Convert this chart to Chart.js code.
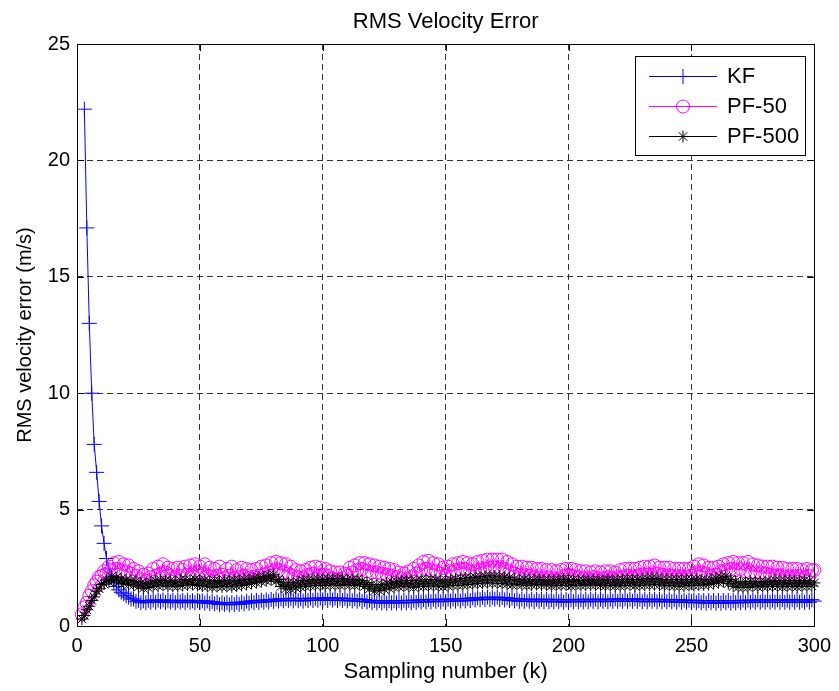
<!DOCTYPE html>
<html>
<head>
<meta charset="utf-8">
<script src="https://cdn.jsdelivr.net/npm/chart.js@4"></script>
<style>
  html, body { margin: 0; padding: 0; background: #ffffff; }
  #wrap { width: 839px; height: 691px; }
  canvas { display: block; }
</style>
</head>
<body>
<div id="wrap"><canvas id="c" width="839" height="691"></canvas></div>
<script>
// ---------- data ----------
const chartTitle = "RMS Velocity Error";
const xAxisTitle = "Sampling number (k)";
const yAxisTitle = "RMS velocity error (m/s)";
const seriesNames = ["KF", "PF-50", "PF-500"];
const xTicks = [0, 50, 100, 150, 200, 250, 300];
const yTicks = [0, 5, 10, 15, 20, 25];

// sampling numbers k = 1..300
const samples = Array.from({ length: 300 }, (_, i) => i + 1);

const kfValues = [
  null, null, 22.2, 17.1, 13.0, 10.0, 7.8, 6.6, 5.35, 4.3,
  3.55, 2.9, 2.45, 2.1, 1.85, 1.7, 1.55, 1.45, 1.38, 1.3,
  1.24, 1.16, 1.16, 1.06, 1.1, 1.0, 1.08, 1.0, 1.1, 1.02,
  1.12, 1.02, 1.11, 1.04, 1.12, 1.01, 1.1, 1.03, 1.11, 1.0,
  1.1, 1.03, 1.1, 1.0, 1.11, 1.02, 1.08, 1.0, 1.1, 1.01,
  1.08, 0.98, 1.08, 0.97, 1.05, 0.95, 1.02, 0.92, 1.0, 0.93,
  1.0, 0.91, 1.01, 0.92, 1.02, 0.93, 1.03, 0.95, 1.06, 0.98,
  1.08, 1.0, 1.1, 1.01, 1.11, 1.03, 1.12, 1.04, 1.14, 1.06,
  1.16, 1.08, 1.17, 1.08, 1.18, 1.1, 1.19, 1.08, 1.19, 1.09,
  1.18, 1.07, 1.18, 1.1, 1.2, 1.1, 1.19, 1.11, 1.2, 1.12,
  1.21, 1.1, 1.21, 1.11, 1.2, 1.09, 1.2, 1.1, 1.19, 1.08,
  1.18, 1.08, 1.17, 1.06, 1.16, 1.05, 1.14, 1.03, 1.11, 1.01,
  1.09, 0.99, 1.09, 0.99, 1.08, 0.98, 1.09, 0.99, 1.08, 0.99,
  1.09, 0.99, 1.1, 1.0, 1.1, 1.0, 1.11, 1.01, 1.12, 1.03,
  1.13, 1.03, 1.14, 1.04, 1.15, 1.06, 1.14, 1.04, 1.15, 1.05,
  1.16, 1.07, 1.16, 1.07, 1.17, 1.07, 1.18, 1.08, 1.19, 1.09,
  1.21, 1.12, 1.21, 1.13, 1.23, 1.13, 1.24, 1.14, 1.23, 1.15,
  1.24, 1.13, 1.23, 1.12, 1.21, 1.1, 1.19, 1.08, 1.17, 1.06,
  1.16, 1.06, 1.15, 1.06, 1.15, 1.04, 1.15, 1.06, 1.15, 1.04,
  1.15, 1.04, 1.13, 1.04, 1.15, 1.04, 1.13, 1.02, 1.13, 1.04,
  1.13, 1.04, 1.15, 1.04, 1.13, 1.04, 1.15, 1.04, 1.15, 1.06,
  1.15, 1.04, 1.15, 1.06, 1.15, 1.04, 1.15, 1.06, 1.17, 1.06,
  1.15, 1.06, 1.17, 1.06, 1.15, 1.06, 1.17, 1.06, 1.15, 1.04,
  1.15, 1.04, 1.15, 1.06, 1.15, 1.04, 1.15, 1.04, 1.13, 1.04,
  1.13, 1.04, 1.13, 1.02, 1.13, 1.02, 1.11, 1.02, 1.11, 1.0,
  1.11, 1.0, 1.09, 1.0, 1.09, 0.98, 1.09, 1.0, 1.09, 0.98,
  1.09, 0.98, 1.09, 1.0, 1.09, 0.98, 1.09, 1.0, 1.09, 1.0,
  1.11, 1.0, 1.11, 1.02, 1.11, 1.02, 1.13, 1.02, 1.11, 1.02,
  1.13, 1.02, 1.11, 1.02, 1.13, 1.02, 1.13, 1.02, 1.11, 1.02,
  1.13, 1.02, 1.13, 1.02, 1.11, 1.02, 1.13, 1.02, 1.13, 1.07
];

const pf50Values = [
  null, 0.5, 0.8, 1.0, 1.3, 1.5, 1.75, 1.9, 2.1, 2.15,
  2.35, 2.25, 2.55, 2.4, 2.7, 2.45, 2.75, 2.4, 2.65, 2.35,
  2.6, 2.25, 2.45, 2.15, 2.35, 2.0, 2.2, 1.95, 2.25, 2.1,
  2.45, 2.15, 2.55, 2.25, 2.65, 2.3, 2.5, 2.15, 2.45, 2.1,
  2.5, 2.15, 2.4, 2.55, 2.2, 2.6, 2.25, 2.65, 2.3, 2.55,
  2.25, 2.65, 2.2, 2.5, 2.1, 2.45, 2.15, 2.55, 2.2, 2.05,
  2.45, 2.15, 2.55, 2.05, 2.4, 2.1, 2.5, 2.15, 2.45, 2.05,
  2.4, 2.1, 2.45, 2.15, 2.55, 2.2, 2.6, 2.3, 2.7, 2.35,
  2.75, 2.4, 2.7, 2.3, 2.65, 2.25, 2.55, 2.15, 2.4, 2.1,
  2.35, 2.05, 2.4, 2.2, 2.5, 2.25, 2.55, 2.15, 2.5, 2.2,
  2.45, 2.15, 2.35, 2.05, 2.3, 2.0, 2.3, 2.05, 2.25, 2.15,
  2.5, 2.3, 2.6, 2.4, 2.7, 2.45, 2.7, 2.35, 2.65, 2.3,
  2.6, 2.3, 2.55, 2.25, 2.5, 2.2, 2.45, 2.15, 2.4, 2.1,
  2.3, 2.05, 2.25, 2.0, 2.35, 2.1, 2.45, 2.25, 2.6, 2.4,
  2.75, 2.45, 2.8, 2.4, 2.7, 2.35, 2.65, 2.25, 2.5, 2.15,
  2.55, 2.35, 2.65, 2.4, 2.7, 2.45, 2.75, 2.45, 2.7, 2.35,
  2.65, 2.35, 2.75, 2.4, 2.8, 2.45, 2.85, 2.5, 2.85, 2.5,
  2.85, 2.45, 2.85, 2.45, 2.75, 2.35, 2.65, 2.25, 2.55, 2.2,
  2.55, 2.15, 2.5, 2.15, 2.5, 2.1, 2.45, 2.05, 2.45, 2.05,
  2.4, 2.05, 2.4, 2.0, 2.35, 2.0, 2.4, 2.15, 2.45, 2.2,
  2.45, 2.15, 2.4, 2.1, 2.35, 2.05, 2.35, 2.05, 2.3, 2.1,
  2.35, 2.05, 2.3, 2.05, 2.35, 2.1, 2.35, 2.05, 2.3, 2.1,
  2.4, 2.1, 2.45, 2.15, 2.45, 2.1, 2.45, 2.15, 2.5, 2.2,
  2.55, 2.2, 2.55, 2.2, 2.6, 2.25, 2.5, 2.2, 2.5, 2.15,
  2.5, 2.15, 2.45, 2.1, 2.45, 2.1, 2.45, 2.1, 2.45, 2.15,
  2.55, 2.3, 2.65, 2.3, 2.6, 2.25, 2.5, 2.15, 2.5, 2.2,
  2.55, 2.35, 2.65, 2.4, 2.7, 2.45, 2.75, 2.4, 2.7, 2.45,
  2.7, 2.35, 2.75, 2.3, 2.65, 2.3, 2.6, 2.3, 2.55, 2.25,
  2.55, 2.2, 2.55, 2.15, 2.5, 2.15, 2.5, 2.1, 2.45, 2.1,
  2.45, 2.1, 2.45, 2.15, 2.4, 2.1, 2.45, 2.15, 2.4, 2.4
];

const pf500Values = [
  null, 0.3, 0.45, 0.7, 0.85, 1.1, 1.25, 1.5, 1.6, 1.78,
  1.8, 1.98, 1.9, 2.12, 1.95, 2.08, 1.88, 2.02, 1.82, 1.98,
  1.78, 1.95, 1.75, 1.92, 1.68, 1.85, 1.62, 1.82, 1.65, 1.9,
  1.7, 1.95, 1.72, 1.98, 1.75, 1.96, 1.7, 1.95, 1.72, 1.9,
  1.7, 1.98, 1.74, 2.0, 1.76, 1.98, 1.78, 2.02, 1.74, 1.96,
  1.72, 1.98, 1.7, 1.92, 1.66, 1.95, 1.7, 1.92, 1.68, 1.96,
  1.7, 1.94, 1.68, 1.98, 1.72, 1.96, 1.74, 2.02, 1.78, 2.0,
  1.82, 2.05, 1.86, 2.1, 1.9, 2.12, 1.94, 2.18, 1.98, 2.2,
  1.92, 2.0, 1.7, 1.88, 1.6, 1.85, 1.58, 1.86, 1.64, 1.88,
  1.68, 1.96, 1.7, 1.98, 1.72, 2.0, 1.74, 2.02, 1.76, 2.0,
  1.74, 2.02, 1.76, 2.04, 1.76, 2.02, 1.74, 2.04, 1.78, 1.98,
  1.76, 2.0, 1.74, 1.98, 1.78, 1.95, 1.7, 1.86, 1.6, 1.78,
  1.5, 1.76, 1.52, 1.78, 1.58, 1.84, 1.62, 1.9, 1.66, 1.92,
  1.68, 1.94, 1.7, 1.96, 1.68, 1.95, 1.66, 1.94, 1.7, 1.98,
  1.7, 1.98, 1.72, 2.0, 1.72, 1.98, 1.7, 1.96, 1.68, 1.98,
  1.72, 1.98, 1.74, 2.02, 1.74, 2.04, 1.76, 2.06, 1.78, 2.08,
  1.8, 2.1, 1.82, 2.12, 1.84, 2.14, 1.86, 2.16, 1.84, 2.14,
  1.84, 2.14, 1.82, 2.1, 1.8, 2.08, 1.76, 2.02, 1.78, 1.98,
  1.76, 2.02, 1.74, 1.98, 1.76, 1.98, 1.78, 2.0, 1.76, 1.96,
  1.76, 1.98, 1.72, 1.98, 1.74, 2.0, 1.74, 2.02, 1.76, 2.0,
  1.72, 2.0, 1.74, 1.96, 1.74, 1.96, 1.76, 1.98, 1.76, 1.98,
  1.76, 1.98, 1.74, 1.96, 1.72, 2.0, 1.74, 1.98, 1.72, 1.98,
  1.72, 2.0, 1.74, 2.02, 1.76, 2.0, 1.72, 2.0, 1.74, 2.02,
  1.76, 2.04, 1.76, 2.06, 1.78, 2.04, 1.76, 2.0, 1.72, 2.0,
  1.74, 2.0, 1.72, 2.0, 1.7, 1.98, 1.72, 2.0, 1.74, 2.0,
  1.74, 2.02, 1.76, 1.98, 1.76, 1.98, 1.78, 2.0, 1.82, 2.06,
  1.86, 2.1, 1.9, 2.14, 1.82, 2.0, 1.7, 1.92, 1.66, 1.88,
  1.66, 1.9, 1.66, 1.92, 1.7, 1.9, 1.68, 1.9, 1.7, 1.9,
  1.7, 1.92, 1.7, 1.96, 1.7, 1.94, 1.68, 1.94, 1.7, 1.96,
  1.7, 1.94, 1.68, 1.94, 1.7, 1.96, 1.7, 1.94, 1.72, 1.85
];

// ---------- styling ----------
const FONT = '"Liberation Sans", Arial, Helvetica, sans-serif';
const seriesStyles = [
  { color: '#0000ff', pointStyle: 'cross', radius: 7.5, order: 3 },
  { color: '#ff00ff', pointStyle: 'circle', radius: 6.5, order: 2 },
  { color: '#000000', pointStyle: 'star', radius: 6, order: 1 }
];
const seriesValues = [kfValues, pf50Values, pf500Values];

function toPoints(values) {
  return samples.map((k, i) => ({ x: k, y: values[i] }));
}

const datasets = seriesNames.map((name, i) => ({
  label: name,
  data: toPoints(seriesValues[i]),
  borderColor: seriesStyles[i].color,
  backgroundColor: 'rgba(0,0,0,0)',
  borderWidth: 1,
  pointStyle: seriesStyles[i].pointStyle,
  pointRadius: seriesStyles[i].radius,
  pointHoverRadius: seriesStyles[i].radius,
  pointBorderColor: seriesStyles[i].color,
  pointBackgroundColor: 'rgba(0,0,0,0)',
  pointBorderWidth: 1,
  tension: 0,
  spanGaps: false,
  clip: false,
  order: seriesStyles[i].order
}));

// Axes frame, inward tick marks, title and legend
const matlabFrame = {
  id: 'matlabFrame',
  afterDatasetsDraw(chart) {
    const { ctx, chartArea: a, scales } = chart;
    ctx.save();
    ctx.strokeStyle = '#000';
    ctx.lineWidth = 1;
    ctx.setLineDash([]);
    ctx.strokeRect(Math.round(a.left) + 0.5, Math.round(a.top) + 0.5,
                   Math.round(a.right - a.left), Math.round(a.bottom - a.top));
    const tl = 7;
    ctx.beginPath();
    xTicks.forEach(v => {
      const px = Math.round(scales.x.getPixelForValue(v)) + 0.5;
      ctx.moveTo(px, a.bottom); ctx.lineTo(px, a.bottom - tl);
      ctx.moveTo(px, a.top); ctx.lineTo(px, a.top + tl);
    });
    yTicks.forEach(v => {
      const py = Math.round(scales.y.getPixelForValue(v)) + 0.5;
      ctx.moveTo(a.left, py); ctx.lineTo(a.left + tl, py);
      ctx.moveTo(a.right, py); ctx.lineTo(a.right - tl, py);
    });
    ctx.stroke();

    // title
    ctx.fillStyle = '#000';
    ctx.font = '22px ' + FONT;
    ctx.textAlign = 'center';
    ctx.textBaseline = 'middle';
    ctx.fillText(chartTitle, (a.left + a.right) / 2, 22);

    // legend box
    const bx = 635.5, by = 56.5, bw = 170, bh = 99;
    ctx.fillStyle = '#fff';
    ctx.fillRect(bx, by, bw, bh);
    ctx.strokeStyle = '#000';
    ctx.strokeRect(bx, by, bw, bh);
    const rowsY = [76, 106, 136];
    seriesNames.forEach((name, i) => {
      const st = seriesStyles[i];
      const y = rowsY[i];
      ctx.strokeStyle = st.color;
      ctx.lineWidth = 1;
      ctx.beginPath();
      ctx.moveTo(649, y + 0.5); ctx.lineTo(717, y + 0.5);
      ctx.stroke();
      ctx.fillStyle = 'rgba(0,0,0,0)';
      ctx.strokeStyle = st.color;
      Chart.helpers.drawPoint(ctx, {
        pointStyle: st.pointStyle, radius: st.radius, rotation: 0, borderWidth: 1
      }, 683, y + 0.5);
      ctx.fillStyle = '#000';
      ctx.font = '22px ' + FONT;
      ctx.textAlign = 'left';
      ctx.textBaseline = 'middle';
      ctx.fillText(name, 727, y + 1);
    });
    ctx.restore();
  }
};

new Chart(document.getElementById('c'), {
  type: 'line',
  data: { datasets },
  options: {
    responsive: false,
    animation: false,
    devicePixelRatio: 1,
    layout: { padding: { top: 44, right: 24, left: 0, bottom: 0 } },
    plugins: {
      legend: { display: false },
      title: { display: false },
      tooltip: { enabled: false }
    },
    scales: {
      x: {
        type: 'linear',
        min: 0, max: 300,
        afterBuildTicks(scale) { scale.ticks = xTicks.map(v => ({ value: v })); },
        afterFit(scale) { scale.height = 65; },
        grid: { color: 'rgba(0,0,0,0.8)', lineWidth: 1, drawTicks: false },
        border: { display: false, dash: [6, 4] },
        ticks: { color: '#000', font: { family: FONT, size: 20 }, padding: 8, maxRotation: 0 },
        title: { display: true, text: xAxisTitle, color: '#000',
                 font: { family: FONT, size: 22 }, padding: { top: 0, bottom: 6 } }
      },
      y: {
        type: 'linear',
        min: 0, max: 25,
        afterBuildTicks(scale) { scale.ticks = yTicks.map(v => ({ value: v })); },
        afterFit(scale) { scale.width = 77; },
        grid: { color: 'rgba(0,0,0,0.8)', lineWidth: 1, drawTicks: false },
        border: { display: false, dash: [6, 4] },
        ticks: { color: '#000', font: { family: FONT, size: 20 }, padding: 7 },
        title: { display: true, text: yAxisTitle, color: '#000',
                 font: { family: FONT, size: 20 }, padding: { top: 13, bottom: 0 } }
      }
    }
  },
  plugins: [matlabFrame]
});
</script>
</body>
</html>
